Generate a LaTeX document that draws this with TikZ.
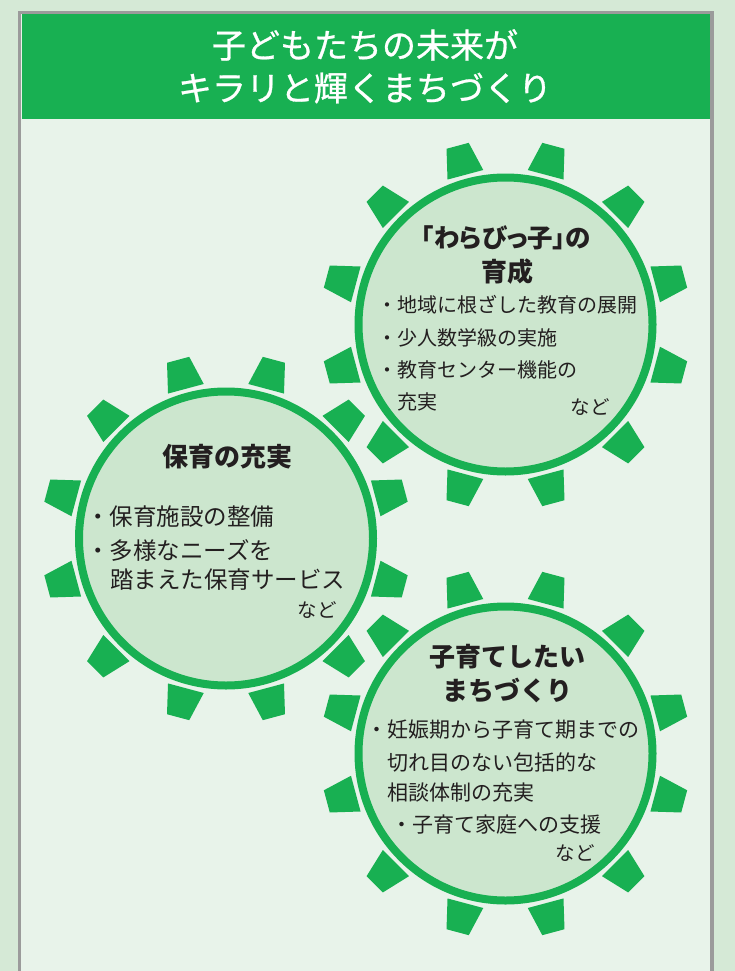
\documentclass[tikz,border=0pt]{standalone}
\usepackage{fontspec}
\newfontfamily\jp{Noto Sans CJK JP}
\newfontfamily\jph[FakeBold=0.8]{Noto Sans CJK JP}
\newfontfamily\jpp[RawFeature=+palt]{Noto Sans CJK JP}
\definecolor{outerbg}{RGB}{213,233,214}
\definecolor{panel}{RGB}{232,243,234}
\definecolor{ggreen}{RGB}{24,176,82}
\definecolor{gfill}{RGB}{204,230,206}
\definecolor{frameg}{RGB}{155,155,155}
\definecolor{txt}{RGB}{35,31,32}
\tikzset{
  hdr/.style={text=white, font=\jph\fontsize{34}{40}\selectfont, inner sep=0pt},
  gtitle/.style={text=txt, font=\jp\bfseries\fontsize{26}{30}\selectfont, inner sep=0pt},
  bodyA/.style={text=txt, font=\jp\fontsize{20}{24}\selectfont, inner sep=0pt, anchor=west},
  bodyB/.style={text=txt, font=\jp\fontsize{23.5}{28}\selectfont, inner sep=0pt, anchor=west},
  bodyC/.style={text=txt, font=\jp\fontsize{21}{25}\selectfont, inner sep=0pt, anchor=west},
  nado/.style={text=txt, font=\jp\fontsize{19.5}{22}\selectfont, inner sep=0pt},
  tooth/.style={fill=ggreen},
  gearring/.style={draw=ggreen, line width=8pt, fill=gfill}
}
\newcommand\drawgear[1]{%
  \foreach \a in {15,45,...,345}{%
    \fill[tooth, shift={(#1)}, rotate=\a] (155,-18.5) -- (185,-11.5) -- (185,11.5) -- (155,18.5) -- cycle;
  }%
  \path[gearring] (#1) circle[radius=147];
}
\begin{document}
\begin{tikzpicture}[x=1pt,y=-1pt]
\useasboundingbox (0,0) rectangle (735,971);
\clip (0,0) rectangle (735,971);
\fill[outerbg] (0,0) rectangle (735,971);
\fill[panel] (19.7,12.5) rectangle (712,995);
\fill[ggreen] (21.5,14.3) rectangle (710.2,119.3);
\draw[frameg, line width=3.5pt] (19.7,12.5) rectangle (712,995);

\node[hdr] (h1) at (365,45) {子どもたちの未来が};
\node[hdr] (h2) at (365,88) {キラリと輝くまちづくり};

\coordinate (g1) at (505.5,324.5);
\coordinate (g2) at (226,538.5);
\coordinate (g3) at (505.5,753.5);
\drawgear{g1}
\drawgear{g2}
\drawgear{g3}

% gear 1
\node[gtitle, font=\jpp\bfseries\fontsize{25.5}{30}\selectfont] (a1) at (506,238) {「わらびっ子」の};
\node[gtitle] (a2) at (507,272) {育成};
\node[bodyA] (a3) at (377,305) {・地域に根ざした教育の展開};
\node[bodyA] (a4) at (377,338) {・少人数学級の実施};
\node[bodyA] (a5) at (377,370) {・教育センター機能の};
\node[bodyA] (a6) at (397,402) {充実};
\node[nado] (a7) at (590,407) {など};

% gear 2
\node[gtitle] (b1) at (227,457) {保育の充実};
\node[bodyB] (b2) at (86,517) {・保育施設の整備};
\node[bodyB] (b3) at (86,550) {・多様なニーズを};
\node[bodyB] (b4) at (110,580) {踏まえた保育サービス};
\node[nado] (b5) at (317,610) {など};

% gear 3
\node[gtitle] (c1) at (507,657) {子育てしたい};
\node[gtitle] (c2) at (507,690) {まちづくり};
\node[bodyC] (c3) at (366,730) {・妊娠期から子育て期までの};
\node[bodyC] (c4) at (387,762) {切れ目のない包括的な};
\node[bodyC] (c5) at (387,793) {相談体制の充実};
\node[bodyC] (c6) at (391,825) {・子育て家庭への支援};
\node[nado] (c7) at (575,853) {など};
\end{tikzpicture}
\end{document}
